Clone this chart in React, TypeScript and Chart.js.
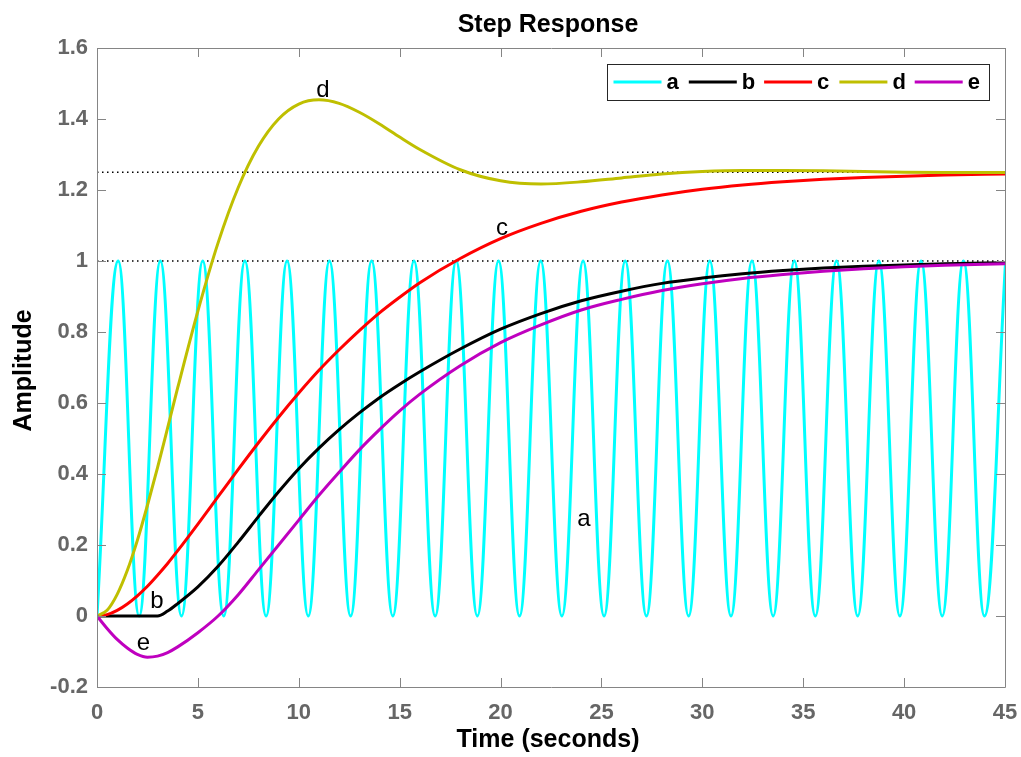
import React, { useEffect, useRef } from 'react';
import { Chart, registerables } from 'chart.js';

Chart.register(...registerables);

// ---- data ----
const stepTimes = [0, 0.5, 1, 1.5, 2, 2.5, 3, 3.5, 4, 5, 6, 7, 8, 9, 10, 11, 12, 13, 14, 15, 16, 18, 20, 22, 24, 26, 28, 30, 32, 34, 36, 38, 40, 42, 45];

const seriesB = [0, 0, 0, 0, 0, 0, 0, 0.014, 0.035, 0.082, 0.14, 0.208, 0.28, 0.35, 0.415, 0.473, 0.525, 0.572, 0.615, 0.653, 0.688, 0.752, 0.808, 0.852, 0.888, 0.915, 0.937, 0.952, 0.964, 0.973, 0.98, 0.985, 0.989, 0.992, 0.995];

const seriesC = [0, 0.004, 0.016, 0.034, 0.057, 0.084, 0.115, 0.148, 0.184, 0.259, 0.336, 0.413, 0.488, 0.56, 0.628, 0.692, 0.75, 0.804, 0.854, 0.898, 0.939, 1.007, 1.063, 1.106, 1.14, 1.166, 1.186, 1.202, 1.214, 1.223, 1.23, 1.235, 1.239, 1.242, 1.245];

const seriesD = [0, 0.016, 0.061, 0.128, 0.213, 0.312, 0.418, 0.53, 0.643, 0.859, 1.051, 1.207, 1.323, 1.4, 1.442, 1.454, 1.444, 1.419, 1.386, 1.349, 1.314, 1.257, 1.226, 1.217, 1.223, 1.234, 1.245, 1.252, 1.255, 1.255, 1.254, 1.252, 1.25, 1.249, 1.249];

const seriesE = [0, -0.035, -0.066, -0.09, -0.108, -0.116, -0.113, -0.103, -0.087, -0.047, 0, 0.06, 0.13, 0.2, 0.27, 0.34, 0.405, 0.468, 0.525, 0.578, 0.625, 0.705, 0.77, 0.82, 0.862, 0.892, 0.917, 0.936, 0.951, 0.962, 0.971, 0.978, 0.984, 0.988, 0.992];

// oscillating response: troughs and crests
const oscTimes = [0, 1.05, 2.09, 3.14, 4.19, 5.24, 6.28, 7.33, 8.38, 9.42, 10.47, 11.52, 12.57, 13.61, 14.66, 15.71, 16.76, 17.8, 18.85, 19.9, 20.94, 21.99, 23.04, 24.09, 25.13, 26.18, 27.23, 28.27, 29.32, 30.37, 31.42, 32.46, 33.51, 34.56, 35.6, 36.65, 37.7, 38.75, 39.79, 40.84, 41.89, 42.94, 43.98, 45.03];
const seriesA = [0, 1, 0, 1, 0, 1, 0, 1, 0, 1, 0, 1, 0, 1, 0, 1, 0, 1, 0, 1, 0, 1, 0, 1, 0, 1, 0, 1, 0, 1, 0, 1, 0, 1, 0, 1, 0, 1, 0, 1, 0, 1, 0, 1];

const refLevels = [1, 1.25];

const xTicks = [0, 5, 10, 15, 20, 25, 30, 35, 40, 45];
const xTickLabels = ['0', '5', '10', '15', '20', '25', '30', '35', '40', '45'];
const yTicks = [-0.2, 0, 0.2, 0.4, 0.6, 0.8, 1, 1.2, 1.4, 1.6];
const yTickLabels = ['-0.2', '0', '0.2', '0.4', '0.6', '0.8', '1', '1.2', '1.4', '1.6'];

const legendLabels = ['a', 'b', 'c', 'd', 'e'];
const curveColors = ['#00FFFF', '#000000', '#FF0000', '#BFBF00', '#BF00BF'];

const curveNotes = [
  { text: 'd', t: 11.2, v: 1.482 },
  { text: 'c', t: 20.07, v: 1.093 },
  { text: 'b', t: 2.97, v: 0.04 },
  { text: 'e', t: 2.3, v: -0.076 },
  { text: 'a', t: 24.13, v: 0.273 },
];

const titleText = 'Step Response';
const xTitle = 'Time (seconds)';
const yTitle = 'Amplitude';

const FONT = '"Liberation Sans", Arial, Helvetica, sans-serif';

const toPoints = (ts: number[], vs: number[]) => ts.map((t, i) => ({ x: t, y: vs[i] }));

const decorPlugin = {
  id: 'decor',
  afterDraw(chart: any) {
    const ctx = chart.ctx as CanvasRenderingContext2D;
    const { left, right, top, bottom } = chart.chartArea;
    const xs = chart.scales.x;
    const ys = chart.scales.y;
    ctx.save();
    // box
    ctx.strokeStyle = '#858585';
    ctx.lineWidth = 1;
    ctx.beginPath();
    ctx.rect(Math.round(left) + 0.5, Math.round(top) + 0.5, Math.round(right - left), Math.round(bottom - top));
    ctx.stroke();
    // inner ticks
    const tl = 9;
    ctx.beginPath();
    xTicks.forEach((v) => {
      const px = Math.round(xs.getPixelForValue(v)) + 0.5;
      ctx.moveTo(px, bottom);
      ctx.lineTo(px, bottom - tl);
      ctx.moveTo(px, top);
      ctx.lineTo(px, top + tl);
    });
    yTicks.forEach((v) => {
      const py = Math.round(ys.getPixelForValue(v)) + 0.5;
      ctx.moveTo(left, py);
      ctx.lineTo(left + tl, py);
      ctx.moveTo(right, py);
      ctx.lineTo(right - tl, py);
    });
    ctx.stroke();

    // titles
    ctx.fillStyle = '#000';
    ctx.font = `bold 25px ${FONT}`;
    ctx.textAlign = 'center';
    ctx.textBaseline = 'alphabetic';
    ctx.fillText(titleText, (left + right) / 2 - 3, 32);
    ctx.fillText(xTitle, (left + right) / 2 - 3, 747);
    ctx.save();
    ctx.translate(31, (top + bottom) / 2 + 3);
    ctx.rotate(-Math.PI / 2);
    ctx.fillText(yTitle, 0, 0);
    ctx.restore();

    // curve notes
    ctx.font = `24px ${FONT}`;
    ctx.textBaseline = 'middle';
    curveNotes.forEach((n) => {
      ctx.fillText(n.text, xs.getPixelForValue(n.t), ys.getPixelForValue(n.v));
    });

    // legend
    const stride = 75.3;
    const lw = 7 + stride * legendLabels.length - 2;
    const lx = right - 17 - lw;
    const ly = top + 16;
    const lh = 36;
    ctx.fillStyle = '#fff';
    ctx.fillRect(lx, ly, lw, lh);
    ctx.strokeStyle = '#262626';
    ctx.lineWidth = 1;
    ctx.strokeRect(Math.round(lx) + 0.5, Math.round(ly) + 0.5, Math.round(lw), lh);
    ctx.font = `bold 22px ${FONT}`;
    ctx.textAlign = 'left';
    ctx.textBaseline = 'middle';
    legendLabels.forEach((lab, i) => {
      const x0 = lx + 7 + i * stride;
      const cy = ly + lh / 2;
      ctx.strokeStyle = curveColors[i];
      ctx.lineWidth = 3;
      ctx.beginPath();
      ctx.moveTo(x0, cy);
      ctx.lineTo(x0 + 48, cy);
      ctx.stroke();
      ctx.fillStyle = '#000';
      ctx.fillText(lab, x0 + 53, cy + 1);
    });
    ctx.restore();
  },
};

export default function App() {
  const ref = useRef<HTMLCanvasElement | null>(null);
  useEffect(() => {
    if (!ref.current) return;
    const curveData = [seriesA, seriesB, seriesC, seriesD, seriesE];
    const datasets: any[] = curveData.map((vals, i) => ({
      label: legendLabels[i],
      data: i === 0 ? toPoints(oscTimes, vals) : toPoints(stepTimes, vals),
      borderColor: curveColors[i],
      borderWidth: 3,
      pointRadius: 0,
      fill: false,
      tension: i === 0 ? 0.4 : 0,
      cubicInterpolationMode: i === 0 ? 'default' : 'monotone',
      order: 5 - i,
    }));
    refLevels.forEach((lv) => {
      datasets.push({
        label: 'ref',
        data: [{ x: xTicks[0], y: lv }, { x: xTicks[xTicks.length - 1], y: lv }],
        borderColor: '#000',
        borderWidth: 1.3,
        borderDash: [1.5, 3.5],
        pointRadius: 0,
        fill: false,
        order: 10,
      });
    });
    const tickFont = { family: FONT, size: 22, weight: 'bold' as const };
    const chart = new Chart(ref.current, {
      type: 'line',
      data: { datasets },
      options: {
        animation: false,
        responsive: false,
        devicePixelRatio: 1,
        layout: { padding: { top: 48, right: 16, left: 0, bottom: 0 } },
        plugins: { legend: { display: false }, title: { display: false }, tooltip: { enabled: false } },
        scales: {
          x: {
            type: 'linear',
            min: 0,
            max: 45,
            grid: { display: false, drawTicks: false },
            border: { display: false },
            afterBuildTicks: (s: any) => { s.ticks = xTicks.map((v) => ({ value: v })); },
            afterFit: (s: any) => { s.height = 70; s.paddingLeft = 0; s.paddingRight = 0; },
            ticks: {
              autoSkip: false,
              maxRotation: 0,
              padding: 13,
              color: '#666666',
              font: tickFont,
              callback: (v: any) => {
                const k = xTicks.findIndex((t) => Math.abs(t - Number(v)) < 1e-6);
                return k >= 0 ? xTickLabels[k] : '';
              },
            },
          },
          y: {
            type: 'linear',
            min: -0.2,
            max: 1.6,
            grid: { display: false, drawTicks: false },
            border: { display: false },
            afterBuildTicks: (s: any) => { s.ticks = yTicks.map((v) => ({ value: v })); },
            afterFit: (s: any) => { s.width = 97; s.paddingTop = 0; s.paddingBottom = 0; },
            ticks: {
              autoSkip: false,
              padding: 9,
              color: '#666666',
              font: tickFont,
              callback: (v: any) => {
                const k = yTicks.findIndex((t) => Math.abs(t - Number(v)) < 1e-6);
                return k >= 0 ? yTickLabels[k] : '';
              },
            },
          },
        },
      },
      plugins: [decorPlugin],
    });
    return () => chart.destroy();
  }, []);
  return (
    <div style={{ position: 'fixed', left: 0, top: 0, width: 1021, height: 757, background: '#fff' }}>
      <canvas ref={ref} width={1021} height={757} style={{ display: 'block' }} />
    </div>
  );
}
